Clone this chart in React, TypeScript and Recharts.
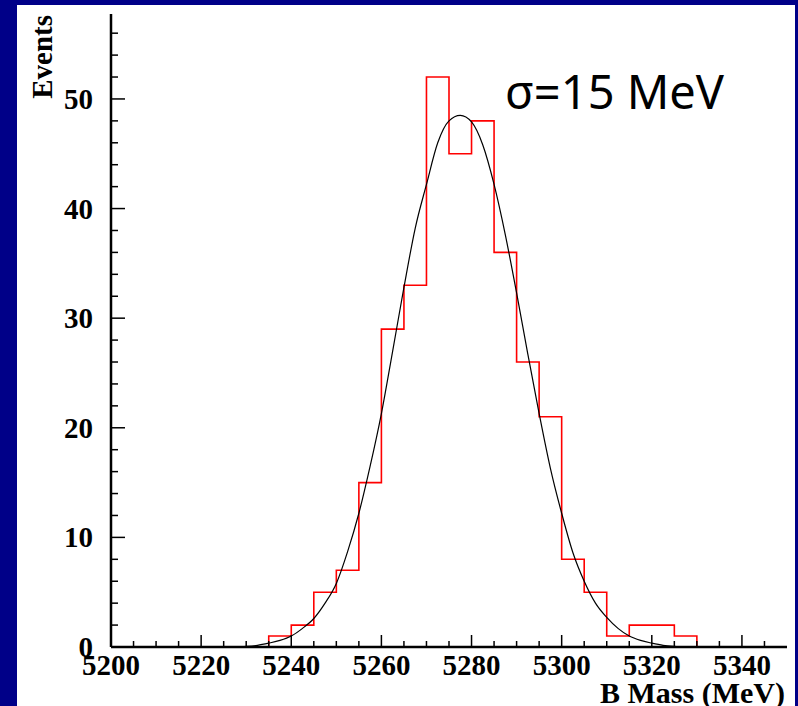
import { Line, LineChart, XAxis, YAxis } from "recharts";

// histogram: lower bin edges (MeV, 5 MeV wide) and counts
const binLow = [
  5235, 5240, 5245, 5250, 5255, 5260, 5265, 5270, 5275, 5280, 5285, 5290,
  5295, 5300, 5305, 5310, 5315, 5320, 5325,
];
const binCounts = [
  1, 2, 5, 7, 15, 29, 33, 52, 45, 48, 36, 26, 21, 8, 5, 1, 2, 2, 1,
];
const binWidth = 5;

// fitted curve
const fitMass = [
  5227.5, 5230, 5232.5, 5235, 5237.5, 5240, 5242.5, 5245, 5247.5, 5250,
  5252.5, 5255, 5257.5, 5260, 5262.5, 5265, 5267.5, 5270, 5272.5, 5275,
  5277.5, 5280, 5282.5, 5285, 5287.5, 5290, 5292.5, 5295, 5297.5, 5300,
  5302.5, 5305, 5307.5, 5310, 5312.5, 5315, 5317.5, 5320, 5322.5, 5325,
  5327.5,
];
const fitEvents = [
  0, 0.05, 0.15, 0.35, 0.6, 1.0, 1.7, 2.6, 4.0, 5.8, 8.7, 12.2, 16.5, 21.3,
  27.0, 32.8, 38.2, 42.2, 46.0, 48.0, 48.5, 47.9, 45.8, 42.2, 37.6, 32.3,
  26.7, 21.3, 16.3, 12.2, 8.6, 6.0, 4.0, 2.7, 1.7, 1.0, 0.6, 0.35, 0.15,
  0.05, 0,
];

const xTicks = Array.from({ length: 30 }, (_, i) => 5200 + i * 5);
const yTicks = Array.from({ length: 29 }, (_, i) => i * 2);

const histData = [
  { x: binLow[0], y: 0 },
  ...binLow.map((lo, i) => ({ x: lo, y: binCounts[i] })),
  { x: binLow[binLow.length - 1] + binWidth, y: 0 },
];
const fitData = fitMass.map((m, i) => ({ x: m, y: fitEvents[i] }));

const labelFont = "'Liberation Serif', 'Times New Roman', serif";

const BottomTick = (props: any) => {
  const { x, y, payload } = props;
  const major = payload.value % 20 === 0;
  return (
    <g>
      <line x1={x} x2={x} y1={y} y2={y - (major ? 12 : 6)} stroke="#000" strokeWidth={1.5} />
      {major && (
        <text x={x} y={y + 28} textAnchor="middle" fontFamily={labelFont} fontWeight="bold" fontSize={29} fill="#000">
          {payload.value}
        </text>
      )}
    </g>
  );
};

const TopTick = (props: any) => {
  const { x, y, payload } = props;
  const major = payload.value % 20 === 0;
  return <line x1={x} x2={x} y1={y} y2={y + (major ? 12 : 6)} stroke="#000" strokeWidth={1.5} />;
};

const LeftTick = (props: any) => {
  const { x, y, payload } = props;
  const major = payload.value % 10 === 0;
  return (
    <g>
      <line x1={x} x2={x + (major ? 14 : 7)} y1={y} y2={y} stroke="#000" strokeWidth={1.5} />
      {major && (
        <text x={x - 18} y={y + 10} textAnchor="end" fontFamily={labelFont} fontWeight="bold" fontSize={29} fill="#000">
          {payload.value}
        </text>
      )}
    </g>
  );
};

const RightTick = (props: any) => {
  const { x, y, payload } = props;
  const major = payload.value % 10 === 0;
  return <line x1={x} x2={x - (major ? 13 : 6)} y1={y} y2={y} stroke="#000" strokeWidth={1.5} />;
};

export default function App() {
  return (
    <div style={{ position: "fixed", left: 0, top: 0, width: 798, height: 706, background: "#000088", overflow: "hidden" }}>
      <div style={{ position: "absolute", left: 17, top: 5, width: 778, height: 701, background: "#fff" }} />
      <div style={{ position: "absolute", left: 0, top: 0 }}>
        <LineChart width={798} height={706} data={fitData} margin={{ top: 14, right: 11, bottom: 0, left: 0 }}>
          <XAxis
            xAxisId="b"
            type="number"
            dataKey="x"
            domain={[5200, 5350]}
            allowDataOverflow
            ticks={xTicks}
            interval={0}
            height={59}
            tickSize={0}
            tickMargin={0}
            tickLine={false}
            tick={BottomTick}
            axisLine={{ stroke: "#000", strokeWidth: 2.5 }}
          />
          <XAxis
            xAxisId="t"
            orientation="top"
            type="number"
            dataKey="x"
            domain={[5200, 5350]}
            allowDataOverflow
            ticks={xTicks}
            interval={0}
            height={0}
            tickSize={0}
            tickMargin={0}
            tickLine={false}
            tick={TopTick}
            axisLine={{ stroke: "#000", strokeWidth: 2.5 }}
          />
          <YAxis
            yAxisId="l"
            type="number"
            domain={[0, 57.75]}
            allowDataOverflow
            ticks={yTicks}
            interval={0}
            width={111}
            tickSize={0}
            tickMargin={0}
            tickLine={false}
            tick={LeftTick}
            axisLine={{ stroke: "#000", strokeWidth: 2.5 }}
          />
          <YAxis
            yAxisId="r"
            orientation="right"
            type="number"
            domain={[0, 57.75]}
            allowDataOverflow
            ticks={yTicks}
            interval={0}
            width={0}
            tickSize={0}
            tickMargin={0}
            tickLine={false}
            tick={RightTick}
            axisLine={{ stroke: "#000", strokeWidth: 2.5 }}
          />
          <Line
            xAxisId="b"
            yAxisId="l"
            data={histData}
            dataKey="y"
            type="stepAfter"
            stroke="#ff0000"
            strokeWidth={1.6}
            dot={false}
            isAnimationActive={false}
          />
          <Line
            xAxisId="b"
            yAxisId="l"
            data={fitData}
            dataKey="y"
            type="monotone"
            stroke="#000"
            strokeWidth={1.2}
            dot={false}
            isAnimationActive={false}
          />
        </LineChart>
      </div>
      <svg width={798} height={706} style={{ position: "absolute", left: 0, top: 0, pointerEvents: "none" }}>
        <text x={52} y={15} transform="rotate(-90, 52, 15)" textAnchor="end" fontFamily={labelFont} fontWeight="bold" fontSize={29} fill="#000">
          Events
        </text>
        <text x={785} y={703} textAnchor="end" fontFamily={labelFont} fontWeight="bold" fontSize={30} fill="#000">
          B Mass (MeV)
        </text>
        <text x={505} y={109} fontFamily="'Noto Sans', 'DejaVu Sans', sans-serif" fontSize={47} fill="#000">
          σ=15 MeV
        </text>
      </svg>
    </div>
  );
}
